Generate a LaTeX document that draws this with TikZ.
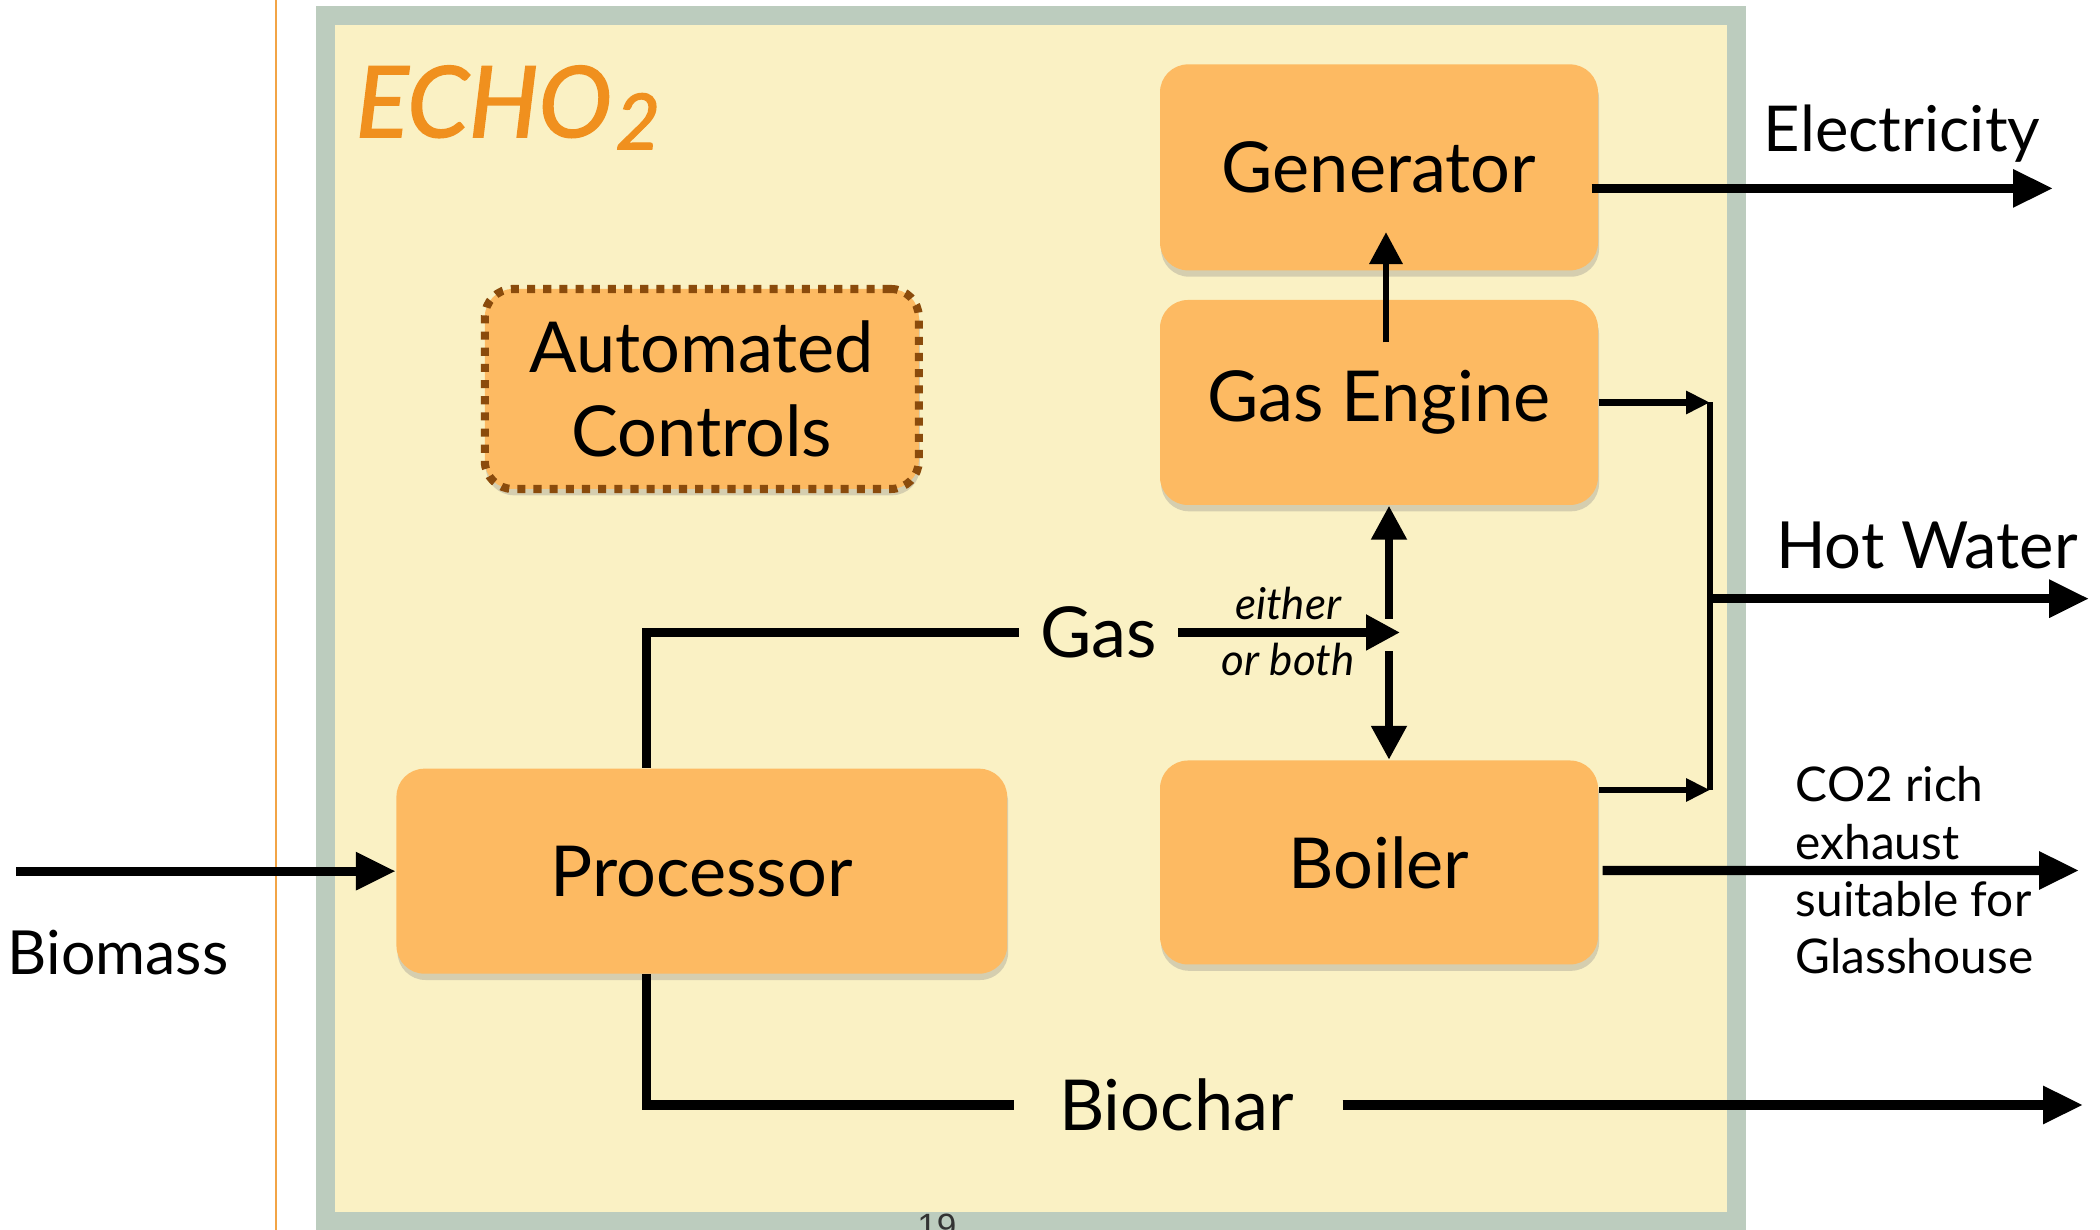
\documentclass[tikz,border=0pt]{standalone}
\usepackage{fontspec}
\setmainfont{Lato}
\newfontfamily\titlefont[FakeBold=1.6]{Lato}
\newfontfamily\pagefont{Liberation Sans}
\usepackage{tikz}
\usetikzlibrary{arrows.meta,shadows,calc}

\definecolor{panefill}{HTML}{FAF1C4}
\definecolor{panerim}{HTML}{BCCCBE}
\definecolor{unitfill}{HTML}{FDBA62}
\definecolor{titleorange}{HTML}{F0901E}
\definecolor{ctrlrim}{HTML}{8A4B0C}
\definecolor{edgeorange}{HTML}{F2A446}

\begin{document}
\begin{tikzpicture}[
    unit/.style={rounded corners=0.28cm, fill=unitfill, inner sep=0pt, align=center,
        font=\fontsize{20}{24}\selectfont,
        drop shadow={shadow xshift=0.3pt, shadow yshift=-1.8pt, opacity=0.3}},
    mainflow/.style={line width=2.6pt, -{Triangle[length=0.4cm, width=0.36cm]}},
    splitflow/.style={line width=2.3pt, -{Triangle[length=0.34cm, width=0.34cm]}},
    liftflow/.style={line width=1.9pt, -{Triangle[length=0.32cm, width=0.32cm]}},
    thinflow/.style={line width=1.8pt, -{Triangle[length=0.24cm, width=0.22cm]}},
    outlabel/.style={font=\fontsize{18.5}{22}\selectfont, inner sep=0pt},
]
    % 页面与外框
    \useasboundingbox (0,0) rectangle (21,12.3);
    \draw[edgeorange, line width=0.8pt] (2.76,0) -- (2.76,12.3);
    \draw[panerim, fill=panefill, line width=0.19cm] (3.255,0.085) rectangle (17.36,12.14);
    \node[anchor=base west, inner sep=0pt, text=titleorange,
        font=\titlefont\fontsize{28}{31}\selectfont\itshape] (title) at (3.55,10.93)
        {ECHO\kern1pt\raisebox{-3.5pt}{\fontsize{22}{23}\selectfont 2}};
    \node[anchor=north, inner sep=0pt, text=black!80,
        font=\pagefont\fontsize{10}{12}\selectfont] (page) at (9.37,0.17) {19};

    % 方框
    \node[unit, minimum width=4.38cm, minimum height=2.06cm] (gen) at (13.79,10.626) {Generator};
    \node[unit, minimum width=4.38cm, minimum height=2.05cm] (eng) at (13.79,8.275) {Gas Engine};
    \node[unit, minimum width=4.38cm, minimum height=2.04cm] (boil) at (13.79,3.675) {Boiler};
    \node[unit, minimum width=6.107cm, minimum height=2.05cm] (proc) at (7.018,3.588) {Processor};
    \node[unit, minimum width=4.34cm, minimum height=2.0cm, draw=ctrlrim, line width=2.3pt,
        dash pattern=on 2.3pt off 2.3pt] (ctrl) at (7.018,8.41) {Automated\\Controls};

    % 连接点
    \coordinate (fork) at (13.89,5.975);
    \coordinate (bus) at (17.10,6.313);
    \coordinate (elecend) at (20.53,10.416);
    \coordinate (hotend) at (20.89,6.313);
    \coordinate (co2end) at (20.79,3.595);
    \coordinate (biostart) at (0.16,3.588);
    \coordinate (charend) at (20.83,1.25);

    % 气体
    \node[outlabel, font=\fontsize{20}{24}\selectfont] (gas) at (10.985,5.975) {Gas};
    \draw[line width=2.6pt] ($(proc.north)+(-0.55,0)$) |- ($(gas.west)+(-0.21,0)$);
    \draw[splitflow] ($(gas.east)+(0.21,0)$) -- ($(gas.east -| fork)+(0.11,0)$);
    \draw[splitflow] ($(fork)+(0,0.135)$) -- (eng.south -| fork);
    \draw[splitflow] ($(fork)+(0,-0.19)$) -- (boil.north -| fork);
    \node[anchor=base, inner sep=0pt, font=\fontsize{12.5}{14}\selectfont\itshape] (either) at (12.88,6.10) {either};
    \node[anchor=base, inner sep=0pt, font=\fontsize{12.5}{14}\selectfont\itshape] (orboth) at (12.88,5.54) {or both};

    % 发电
    \draw[liftflow] ($(eng.north)+(0.07,-0.43)$) -- ($(gen.south)+(0.07,0.39)$);
    \draw[mainflow] ($(gen.east)+(-0.07,-0.21)$) -- (elecend);
    \node[outlabel, font=\fontsize{18}{22}\selectfont, anchor=base] (elec) at (19.02,10.787) {Electricity};

    % 热水
    \draw[thinflow] (eng.east) -- (eng.east -| bus);
    \draw[thinflow] ($(boil.east)+(0,0.725)$) -- ($(boil.east -| bus)+(0,0.725)$);
    \draw[line width=1.8pt] (eng.east -| bus) -- ($(boil.east -| bus)+(0,0.725)$);
    \draw[mainflow] (bus) -- (hotend);
    \node[outlabel, anchor=base] (hot) at (19.27,6.61) {Hot Water};

    % 尾气
    \draw[mainflow] ($(boil.east)+(0.04,-0.08)$) -- (co2end);
    \node[anchor=north west, inner sep=0pt, align=left,
        font=\fontsize{13.6}{16.3}\selectfont] (co2) at (17.95,4.64)
        {CO2 rich\\exhaust\\suitable for\\Glasshouse};

    % 生物质输入
    \draw[mainflow] (biostart) -- (proc.west);
    \node[outlabel, font=\fontsize{17.3}{21}\selectfont, anchor=base] (biomass) at (1.18,2.55) {Biomass};

    % 生物炭
    \node[outlabel, font=\fontsize{20}{24}\selectfont] (char) at (11.765,1.25) {Biochar};
    \draw[line width=2.6pt] ($(proc.south)+(-0.55,0)$) |- ($(char.west)+(-0.44,0)$);
    \draw[mainflow] ($(char.east)+(0.48,0)$) -- (charend);
\end{tikzpicture}
\end{document}
